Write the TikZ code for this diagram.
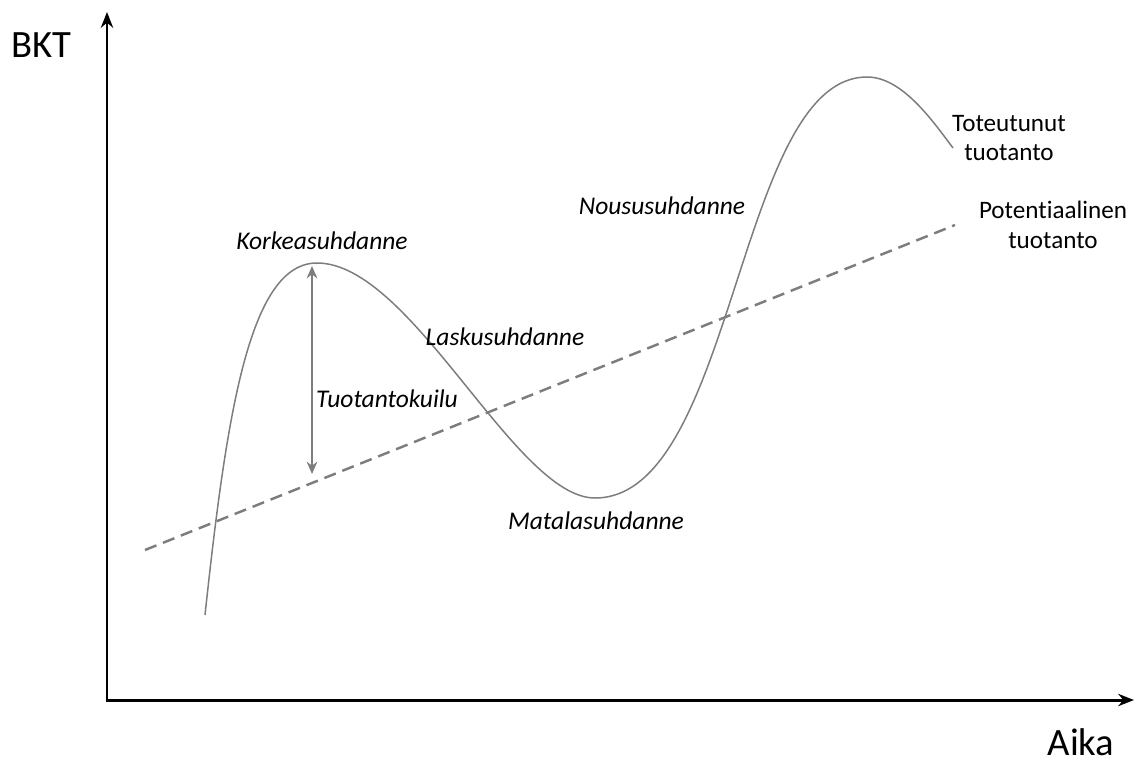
\documentclass[tikz,border=0pt]{standalone}
\usepackage{fontspec}
\setmainfont{Carlito}[Ligatures=CommonOff]
\usetikzlibrary{arrows.meta}
\definecolor{curvegray}{RGB}{125,125,125}
\definecolor{dashgray}{RGB}{125,125,125}
\tikzset{
  axis/.style={line width=1.7pt, -{Stealth[length=9pt,width=7pt]}},
  bigtext/.style={font=\fontsize{22pt}{26pt}\selectfont, inner sep=0pt},
  phase/.style={font=\fontsize{14.5pt}{17pt}\selectfont\itshape, inner sep=0pt},
  lbl/.style={font=\fontsize{14.3pt}{17pt}\selectfont, inner sep=0pt, align=center},
  actual/.style={draw=curvegray, line width=0.85pt},
  potential/.style={draw=dashgray, line width=1.4pt, dash pattern=on 7pt off 4pt},
  gap/.style={draw=curvegray, line width=1.3pt, {Stealth[length=7pt,width=6pt]}-{Stealth[length=7pt,width=6pt]}}
}
\begin{document}
\begin{tikzpicture}[x=0.02cm,y=-0.02cm]
\useasboundingbox (0,0) rectangle (1135,765);
% axes
\coordinate (O) at (107,700);
\coordinate (Ytop) at (107,12);
\coordinate (Xend) at (1134,700);
\draw[axis] (O) -- (Ytop);
\draw[axis] ([xshift=-0.85pt]O) -- (Xend);
\node[bigtext] (bkt) at (41,45) {BKT};
\node[bigtext] (aika) at (1081,742) {Aika};
% potential output
\coordinate (P1) at (145,550);
\coordinate (P2) at (955,225);
\draw[potential] (P1) -- (P2);
% actual output
\coordinate (c0) at (205,615);
\coordinate (c1) at (317,263);
\coordinate (c2) at (595,498);
\coordinate (c3) at (867,77);
\coordinate (c4) at (953,148);
\draw[actual] (c0) .. controls (227,410) and (250,263) .. (c1)
  .. controls (412,263) and (515,498) .. (c2)
  .. controls (735,498) and (737,77) .. (c3)
  .. controls (902,77) and (932,120) .. (c4);
% output gap
\coordinate (G1) at (312,266);
\coordinate (G2) at (312,474);
\draw[gap] (G1) -- (G2);
% labels
\node[phase] (korkea) at (322,241) {Korkeasuhdanne};
\node[phase] (lasku) at (505,337) {Laskusuhdanne};
\node[phase] (kuilu) at (387,399) {Tuotantokuilu};
\node[phase] (matala) at (596,521) {Matalasuhdanne};
\node[phase] (nousu) at (662,206) {Noususuhdanne};
\node[lbl] (tot) at (1009,138) {Toteutunut\\tuotanto};
\node[lbl] (pot) at (1053,225) {Potentiaalinen\\tuotanto};
\end{tikzpicture}
\end{document}
